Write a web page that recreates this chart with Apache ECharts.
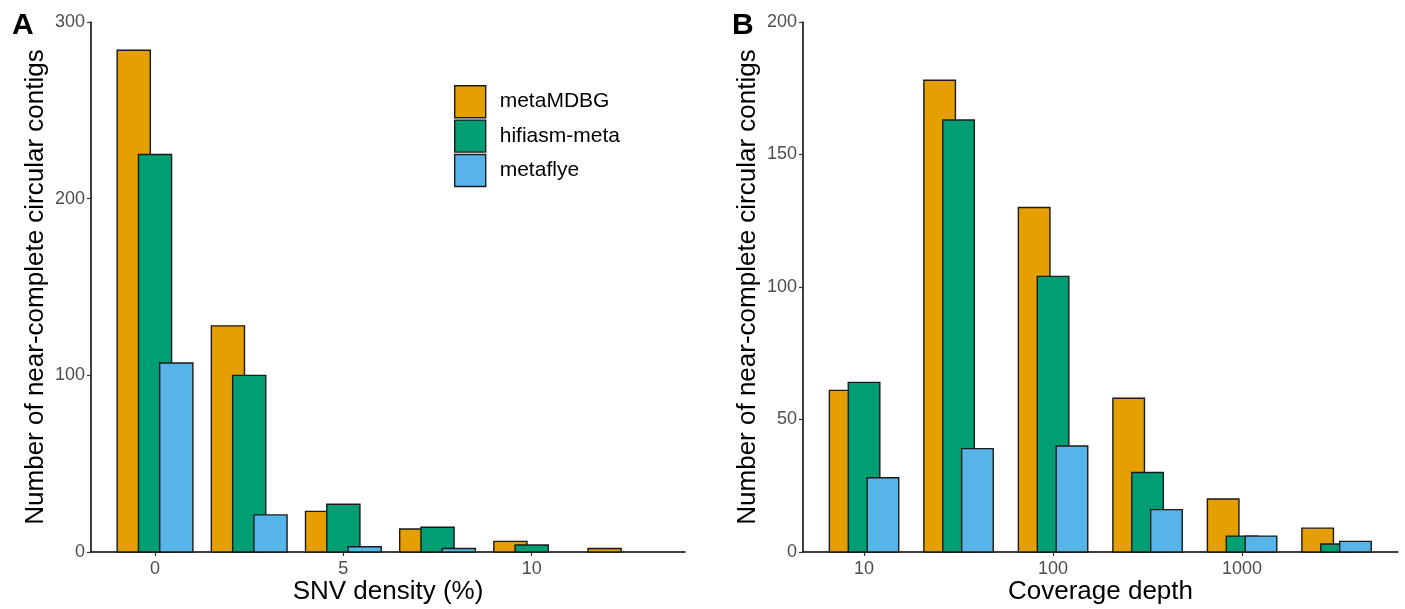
<!DOCTYPE html>
<html>
<head>
<meta charset="utf-8">
<script src="https://cdn.jsdelivr.net/npm/echarts@6/dist/echarts.min.js"></script>
<style>
html,body{margin:0;padding:0;background:#fff;}
#chart{width:1405px;height:609px;}
</style>
</head>
<body>
<div id="chart"></div>
<script>
// ---- data ----
const methods = ['metaMDBG', 'hifiasm-meta', 'metaflye'];
const colors = ['#E69F00', '#009E73', '#56B4E9'];

// Panel A: SNV density (%) bin centres
const snvBins = [0, 2.5, 5, 7.5, 10, 12.5];
const snvMetaMDBG = [284, 128, 23, 13, 6, 2];
const snvHifiasm = [225, 100, 27, 14, 4, 0];
const snvMetaflye = [107, 21, 3, 2, 0, 0];
const snvTicks = [0, 5, 10];

// Panel B: coverage depth bin centres (log10 units)
const depthBinsLog = [1, 1.5, 2, 2.5, 3, 3.5];
const depthMetaMDBG = [61, 178, 130, 58, 20, 9];
const depthHifiasm = [64, 163, 104, 30, 6, 3];
const depthMetaflye = [28, 39, 40, 16, 6, 4];
const depthTicksLog = [1, 2, 3];
const depthTickLabels = ['10', '100', '1000'];

const chart = echarts.init(document.getElementById('chart'));
const FONT = 'Liberation Sans, Arial, sans-serif';

function makeSeries(name, idx, bins, vals, gridIdx, width, offset) {
  return {
    type: 'custom',
    name: name,
    xAxisIndex: gridIdx,
    yAxisIndex: gridIdx,
    itemStyle: {color: colors[idx]},
    z: 2 + idx,
    data: bins.map((b, i) => [b, vals[i]]),
    renderItem: function (params, api) {
      const x = api.value(0), v = api.value(1);
      if (!v) return null;
      const c = x + offset;
      const p1 = api.coord([c - width / 2, v]);
      const p2 = api.coord([c + width / 2, 0]);
      return {
        type: 'rect',
        shape: {x: p1[0], y: p1[1], width: p2[0] - p1[0], height: p2[1] - p1[1]},
        style: {fill: colors[idx], stroke: '#1a1a1a', lineWidth: 1.4}
      };
    }
  };
}

const aW = 0.88, aOff = 0.565;
const bW = 0.167, bOff = 0.1;

const series = [
  makeSeries(methods[0], 0, snvBins, snvMetaMDBG, 0, aW, -aOff),
  makeSeries(methods[1], 1, snvBins, snvHifiasm, 0, aW, 0),
  makeSeries(methods[2], 2, snvBins, snvMetaflye, 0, aW, aOff),
  makeSeries(methods[0], 0, depthBinsLog, depthMetaMDBG, 1, bW, -bOff),
  makeSeries(methods[1], 1, depthBinsLog, depthHifiasm, 1, bW, 0),
  makeSeries(methods[2], 2, depthBinsLog, depthMetaflye, 1, bW, bOff)
];

const axisLine = {show: true, onZero: false, lineStyle: {color: '#000', width: 1.5}};
const tickStyle = {show: true, length: 4, lineStyle: {color: '#333', width: 1.2}};
const labelStyle = {color: '#4d4d4d', fontSize: 18, fontFamily: FONT};
const nameStyle = {color: '#000', fontSize: 26, fontFamily: FONT};
const yName = 'Number of near-complete circular contigs';

const option = {
  animation: false,
  backgroundColor: '#fff',
  grid: [
    {left: 91, top: 22, width: 594, height: 530, outerBoundsMode: 'none', containLabel: false},
    {left: 803, top: 22, width: 595, height: 530, outerBoundsMode: 'none', containLabel: false}
  ],
  xAxis: [
    {
      type: 'value', gridIndex: 0, min: -1.7, max: 14.07,
      axisLine: axisLine, splitLine: {show: false},
      axisTick: Object.assign({customValues: snvTicks}, tickStyle),
      axisLabel: Object.assign({customValues: snvTicks, margin: 8}, labelStyle),
      name: 'SNV density (%)', nameLocation: 'middle', nameGap: 27, nameMoveOverlap: false, nameTextStyle: nameStyle
    },
    {
      type: 'value', gridIndex: 1, min: 0.677, max: 3.825,
      axisLine: axisLine, splitLine: {show: false},
      axisTick: Object.assign({customValues: depthTicksLog}, tickStyle),
      axisLabel: Object.assign({
        customValues: depthTicksLog, margin: 8,
        formatter: v => depthTickLabels[depthTicksLog.indexOf(Math.round(v))]
      }, labelStyle),
      name: 'Coverage depth', nameLocation: 'middle', nameGap: 27, nameMoveOverlap: false, nameTextStyle: nameStyle
    }
  ],
  yAxis: [
    {
      type: 'value', gridIndex: 0, min: 0, max: 300, interval: 100,
      axisLine: axisLine, splitLine: {show: false},
      axisTick: tickStyle,
      axisLabel: Object.assign({margin: 6}, labelStyle),
      name: yName, nameLocation: 'middle', nameGap: 42, nameTextStyle: nameStyle
    },
    {
      type: 'value', gridIndex: 1, min: 0, max: 200, interval: 50,
      axisLine: axisLine, splitLine: {show: false},
      axisTick: tickStyle,
      axisLabel: Object.assign({margin: 6}, labelStyle),
      name: yName, nameLocation: 'middle', nameGap: 42, nameTextStyle: nameStyle
    }
  ],
  legend: {
    data: methods.map((m, i) => ({name: m, icon: 'rect', itemStyle: {color: colors[i], borderColor: '#1a1a1a', borderWidth: 1.4}})),
    orient: 'vertical',
    left: 449, top: 80,
    itemWidth: 31, itemHeight: 32, itemGap: 1,
    selectedMode: false,
    textStyle: {color: '#000', fontSize: 21, fontFamily: FONT, padding: [0, 0, 0, 9]}
  },
  graphic: [
    {type: 'text', left: 12, top: 11, style: {text: 'A', fontSize: 30, fontWeight: 'bold', fontFamily: FONT, fill: '#000'}},
    {type: 'text', left: 732, top: 11, style: {text: 'B', fontSize: 30, fontWeight: 'bold', fontFamily: FONT, fill: '#000'}}
  ],
  series: series
};
chart.setOption(option);
</script>
</body>
</html>
